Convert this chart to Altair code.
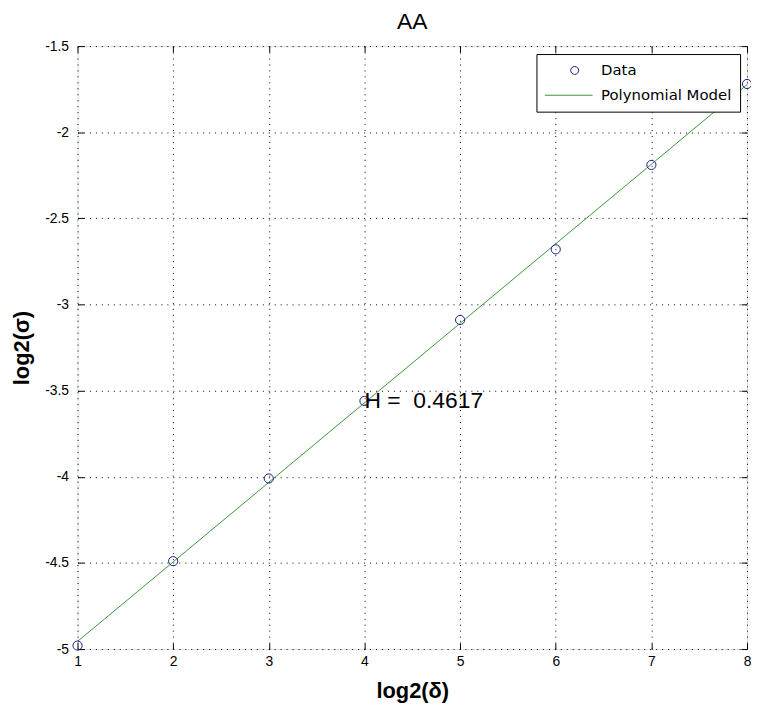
import altair as alt
import pandas as pd

# ---- data ----
x_vals = [1, 2, 3, 4, 5, 6, 7, 8]
y_vals = [-4.98, -4.49, -4.01, -3.56, -3.09, -2.68, -2.19, -1.72]
fit_x = [1, 8]
fit_y = [-4.956, -1.724]
x_ticks = [1, 2, 3, 4, 5, 6, 7, 8]
y_ticks = [-5, -4.5, -4, -3.5, -3, -2.5, -2, -1.5]
series_names = ["Data", "Polynomial Model"]
series_colors = ["#1c1c8c", "#3c963c"]
annot_x = [4]
annot_y = [-3.56]
annot_text = ["H =\u00a0 0.4617"]
title_text = ["AA"]

FONT = "Liberation Sans"
LFONT = "DejaVu Sans"
W, H = 674, 607
TICK = 6

pts = pd.DataFrame({"x": x_vals, "y": y_vals})
fit = pd.DataFrame({"x": fit_x, "y": fit_y})
ann = pd.DataFrame({"x": annot_x, "y": annot_y, "t": annot_text})
leg = pd.DataFrame({"series": series_names})
ttl = pd.DataFrame({"t": title_text})

xscale = alt.Scale(domain=[1, 8], nice=False, zero=False)
yscale = alt.Scale(domain=[-5, -1.5], nice=False, zero=False)

common_axis = dict(
    offset=-TICK, tickSize=TICK, domain=False, tickColor="black",
    labelFlush=False, labelOverlap=False, labelBound=False,
    labelFont=FONT, labelFontSize=14, labelColor="black",
    titleFont=FONT, titleFontSize=22, titleFontWeight="bold", titleColor="black",
    gridColor="black", gridDash=[1, 5], gridOpacity=1, gridWidth=1,
    labelExpr="'' + datum.value",
)

bottom_axis = alt.Axis(orient="bottom", values=x_ticks, grid=True, labelPadding=6,
                       title="log2(δ)", titlePadding=12, **common_axis)
left_axis = alt.Axis(orient="left", values=y_ticks, grid=True, labelPadding=9,
                     title="log2(σ)", titlePadding=11, **common_axis)
top_axis = alt.Axis(orient="top", values=x_ticks, grid=False, labels=False,
                    title=None, **common_axis)
right_axis = alt.Axis(orient="right", values=y_ticks, grid=False, labels=False,
                      title=None, **common_axis)

points = alt.Chart(pts).mark_point(filled=False, size=85, strokeWidth=1,
                                   color=series_colors[0], opacity=1).encode(
    x=alt.X("x:Q", scale=xscale, axis=bottom_axis),
    y=alt.Y("y:Q", scale=yscale, axis=left_axis),
)

line = alt.Chart(fit).mark_line(color=series_colors[1], strokeWidth=1, clip=True).encode(
    x=alt.X("x:Q", scale=xscale, axis=top_axis),
    y=alt.Y("y:Q", scale=yscale, axis=right_axis),
)

text = alt.Chart(ann).mark_text(align="left", baseline="middle", font=FONT,
                                fontSize=23, color="black").encode(
    x=alt.X("x:Q", scale=xscale, axis=None),
    y=alt.Y("y:Q", scale=yscale, axis=None),
    text="t:N",
)

title = alt.Chart(ttl).mark_text(align="center", baseline="alphabetic", font=FONT,
                                 fontSize=23, color="black").encode(
    x=alt.value(W / 2), y=alt.value(-17), text="t:N",
)

circle_path = "M2.25,0A0.5,0.5 0 1,0 3.25,0A0.5,0.5 0 1,0 2.25,0Z"
line_path = "M-1,0L5,0"

legend_props = dict(
    title=None, orient="none", legendX=462, legendY=8,
    fillColor="white", strokeColor="black", padding=8,
    symbolSize=256, symbolStrokeWidth=1, labelOffset=40, rowPadding=8,
    labelFont=LFONT, labelFontSize=15, labelColor="black", labelLimit=300,
)

legend_layer = alt.Chart(leg).transform_filter("false").mark_point(
    filled=False, strokeWidth=1, opacity=1).encode(
    color=alt.Color("series:N", scale=alt.Scale(domain=series_names, range=series_colors),
                    legend=alt.Legend(**legend_props)),
    shape=alt.Shape("series:N", scale=alt.Scale(domain=series_names,
                                               range=[circle_path, line_path]),
                    legend=alt.Legend(**legend_props)),
)

chart = alt.layer(line, points, text, title, legend_layer).resolve_axis(
    x="independent", y="independent"
).properties(
    width=W, height=H,
    autosize=alt.AutoSizeParams(type="none"),
    padding={"left": 70, "top": 36, "right": 4, "bottom": 55},
).configure_view(stroke="black", strokeWidth=1).configure(background="white")

chart.save("out.html", embed_options={"renderer": "svg", "actions": False})
